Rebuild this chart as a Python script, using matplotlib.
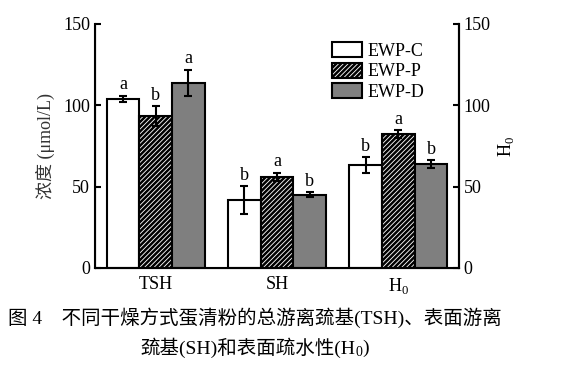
import numpy as np
import matplotlib
matplotlib.use("Agg")
import matplotlib.pyplot as plt

plt.rcParams['font.family'] = ['Liberation Serif', 'Noto Sans CJK SC']
plt.rcParams['hatch.linewidth'] = 1.8
plt.rcParams['mathtext.fontset'] = 'custom'
plt.rcParams['mathtext.rm'] = 'Liberation Serif'

# 数据
categories = ['TSH', 'SH', 'H$_0$']
series = ['EWP-C', 'EWP-P', 'EWP-D']
values = {
    'EWP-C': [104, 41.8, 63.1],
    'EWP-P': [93.4, 56.1, 82.4],
    'EWP-D': [113.9, 45.0, 63.9],
}
errors = {
    'EWP-C': [2.0, 8.4, 4.9],
    'EWP-P': [6.0, 2.5, 2.2],
    'EWP-D': [7.9, 1.5, 2.5],
}
letters = {
    'EWP-C': ['a', 'b', 'b'],
    'EWP-P': ['b', 'a', 'a'],
    'EWP-D': ['a', 'b', 'b'],
}

styles = {
    'EWP-C': dict(color='white', hatch=None),
    'EWP-P': dict(color='white', hatch='///////'),
    'EWP-D': dict(color='#7f7f7f', hatch=None),
}

fig = plt.figure(figsize=(5.74, 3.66), dpi=100)
ax = fig.add_axes([95 / 574, 1 - 268 / 366, 364 / 574, 244 / 366])

x = np.arange(len(categories))
w = 0.27
for i, s in enumerate(series):
    pos = x + (i - 1) * w
    ax.bar(pos, values[s], w, color=styles[s]['color'], hatch=styles[s]['hatch'],
           edgecolor='black', linewidth=1.5, label=s, zorder=2)
    ax.errorbar(pos, values[s], yerr=errors[s], fmt='none', ecolor='black',
                elinewidth=1.5, capsize=3, capthick=1.5, zorder=3)
    for p, v, e, t in zip(pos, values[s], errors[s], letters[s]):
        ax.text(p, v + e + 1.5, t, ha='center', va='bottom', fontsize=13)

ax.set_xlim(-0.5, 2.5)
ax.set_ylim(0, 150)
ax.set_yticks([0, 50, 100, 150])
ax.set_xticks(x)
ax.set_xticklabels(categories, fontsize=13)
ax.tick_params(axis='x', length=0, pad=6)
ax.tick_params(axis='y', direction='in', length=4, width=1.5, labelsize=13)
ax.spines['top'].set_visible(False)
for sp in ['left', 'bottom', 'right']:
    ax.spines[sp].set_linewidth(1.5)
ax.set_ylabel('浓度 (μmol/L)', fontsize=13, color='#333333', labelpad=6)

ax2 = ax.twinx()
ax2.set_ylim(0, 150)
ax2.set_yticks([0, 50, 100, 150])
ax2.tick_params(axis='y', direction='in', length=4, width=1.5, labelsize=13)
ax2.spines['top'].set_visible(False)
ax2.spines['right'].set_linewidth(1.5)
ax2.set_ylabel('H$_0$', fontsize=13, labelpad=4)

leg = ax.legend(loc='upper left', bbox_to_anchor=(0.63, 0.955), frameon=False,
                fontsize=13, handlelength=1.7, handleheight=0.9,
                handletextpad=0.3, labelspacing=0.15, borderaxespad=0)

# 图注
cx = 255 / 574
fig.text(cx, 1 - 318 / 366, '图 4　不同干燥方式蛋清粉的总游离巯基(TSH)、表面游离',
         ha='center', va='center', fontsize=14)

# 第二行: 下标单独画
parts = ['巯基(SH)和表面疏水性(H', '0', ')']
renderer = fig.canvas.get_renderer()
y2 = 1 - 348 / 366
tmp = [fig.text(0, y2, p, fontsize=14 if k != 1 else 10, va='center') for k, p in enumerate(parts)]
widths = [t.get_window_extent(renderer).width for t in tmp]
start = 255 - sum(widths) / 2
for t, wd in zip(tmp, widths):
    t.set_x(start / 574)
    start += wd
tmp[1].set_y(y2 - 5 / 366)

fig.savefig('out.png', dpi=100)
